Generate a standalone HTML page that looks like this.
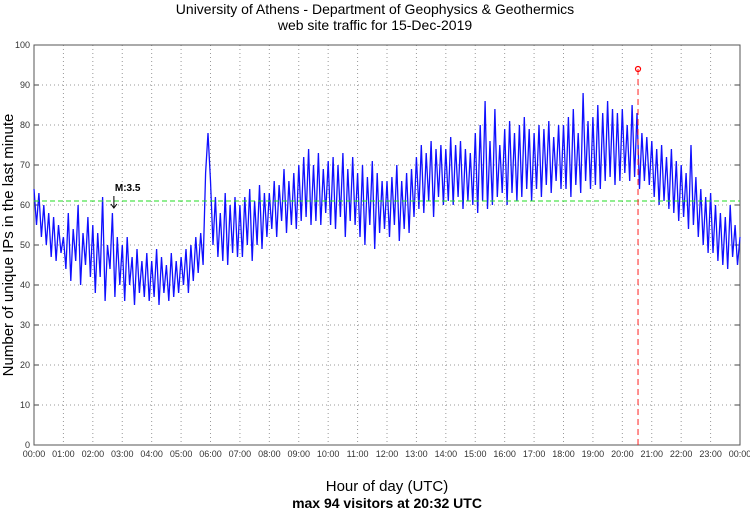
<!DOCTYPE html>
<html><head><meta charset="utf-8"><style>
body{margin:0;background:#fff;}
svg{display:block;font-family:"Liberation Sans",sans-serif;}
</style></head><body>
<svg id="chart" width="750" height="511">
<text x="375" y="14" text-anchor="middle" font-size="14">University of Athens - Department of Geophysics &amp; Geothermics</text>
<text x="375" y="30" text-anchor="middle" font-size="14">web site traffic for 15-Dec-2019</text>
<text x="387" y="491" text-anchor="middle" font-size="15">Hour of day (UTC)</text>
<text x="387" y="508" text-anchor="middle" font-size="14" font-weight="bold">max 94 visitors at 20:32 UTC</text>
<text transform="translate(13,245) rotate(-90)" text-anchor="middle" font-size="15">Number of unique IPs in the last minute</text>
<g id="grid"></g><g id="series"></g><g id="annot"></g>
</svg>
<script>
const yTicks=[0,10,20,30,40,50,60,70,80,90,100];
const xTickLabels=["00:00","01:00","02:00","03:00","04:00","05:00","06:00","07:00","08:00","09:00","10:00","11:00","12:00","13:00","14:00","15:00","16:00","17:00","18:00","19:00","20:00","21:00","22:00","23:00","00:00"];
const visitors=[64,55,63,52,60,50,58,47,57,46,55,48,
52,44,58,41,54,46,60,40,53,45,57,42,
55,38,53,42,62,36,50,44,58,37,52,40,
50,36,52,40,47,35,49,38,46,37,48,36,
46,37,49,35,47,38,45,36,48,37,46,38,
47,40,49,38,50,41,52,43,53,45,68,78,
66,50,62,47,58,46,63,45,60,48,62,47,
60,47,62,50,64,46,61,50,65,49,63,52,
63,54,66,52,65,56,69,53,66,55,68,54,
70,56,72,57,74,55,70,56,73,55,69,58,
71,55,72,54,70,57,73,52,69,56,72,55,
68,52,70,50,67,55,71,49,68,53,66,54,
66,52,67,55,70,51,66,54,68,53,69,57,
72,59,75,58,73,61,76,57,74,62,75,60,
74,61,77,60,75,62,76,59,74,61,73,60,
78,58,80,61,86,59,76,60,84,62,75,63,
79,60,81,63,78,61,80,62,82,64,79,61,
78,64,80,62,79,65,81,63,77,66,80,64,
80,64,82,62,84,65,78,63,88,66,81,64,
82,65,85,64,83,66,86,67,84,65,83,66,
84,68,80,66,85,67,83,64,78,66,77,65,
76,62,74,60,75,61,72,59,74,58,71,56,
70,57,68,54,75,55,67,52,64,50,62,48,
63,48,60,46,58,45,57,44,60,47,55,45,52];
const stepMinutes=5;
const meanLevel=[61];
const maxPoint=[20*60+32,94];
const marker=[165,"M:3.5"];

const L=34,R=740,T=45,B=445;
const X=m=>L+(R-L)*m/1440, Y=v=>B-(B-T)*v/100;
const NS="http://www.w3.org/2000/svg";
function mk(p,t,a){const e=document.createElementNS(NS,t);for(const k in a)e.setAttribute(k,a[k]);p.appendChild(e);return e;}
const g=document.getElementById('grid'),s=document.getElementById('series'),an=document.getElementById('annot');
yTicks.forEach(v=>{
 if(v>0&&v<100){const l=mk(g,'line',{x1:L,x2:R,y1:Y(v),y2:Y(v),stroke:'#999','stroke-dasharray':'1,3'});
 
 }
 mk(g,'line',{x1:L,x2:L+5,y1:Y(v),y2:Y(v),stroke:'#444'});
 mk(g,'line',{x1:R-5,x2:R,y1:Y(v),y2:Y(v),stroke:'#444'});
 const t=mk(g,'text',{x:L-4,y:Y(v)+3,'text-anchor':'end','font-size':9,fill:'#333'});t.textContent=v;
 
 
});
xTickLabels.forEach((lab,i)=>{
 const x=X(i*60);
 if(i>0&&i<24){const l=mk(g,'line',{x1:x,x2:x,y1:T,y2:B,stroke:'#999','stroke-dasharray':'1,3'});
 
 }
 const t=mk(g,'text',{x:x,y:B+12,'text-anchor':'middle','font-size':9,fill:'#333'});t.textContent=lab;
 
 
});
const fr=mk(g,'rect',{x:L,y:T,width:R-L,height:B-T,fill:'none',stroke:'#555'});


const pts=visitors.map((v,i)=>X(i*stepMinutes).toFixed(1)+','+Y(v).toFixed(1)).join(' ');
const pl=mk(s,'polyline',{points:pts,fill:'none',stroke:'#1010ff','stroke-width':1.3});


const ml=mk(an,'line',{x1:L,x2:R,y1:Y(meanLevel[0]),y2:Y(meanLevel[0]),stroke:'#22dd22','stroke-dasharray':'5,3'});


const vl=mk(an,'line',{x1:X(maxPoint[0]),x2:X(maxPoint[0]),y1:Y(maxPoint[1]),y2:B,stroke:'#ff2222','stroke-dasharray':'6,4'});


const mc=mk(an,'circle',{cx:X(maxPoint[0]),cy:Y(maxPoint[1]),r:2.5,fill:'none',stroke:'#ff0000','stroke-width':1.2});


const mx=X(marker[0]);
const mt=mk(an,'text',{x:mx,y:191,'font-size':10,'font-weight':'bold'});mt.textContent=marker[1];


const ar=mk(an,'path',{d:`M${mx-1},196 V208 M${mx-4},204 L${mx-1},208 L${mx+2},204`,stroke:'#000',fill:'none'});


</script>
</body></html>
